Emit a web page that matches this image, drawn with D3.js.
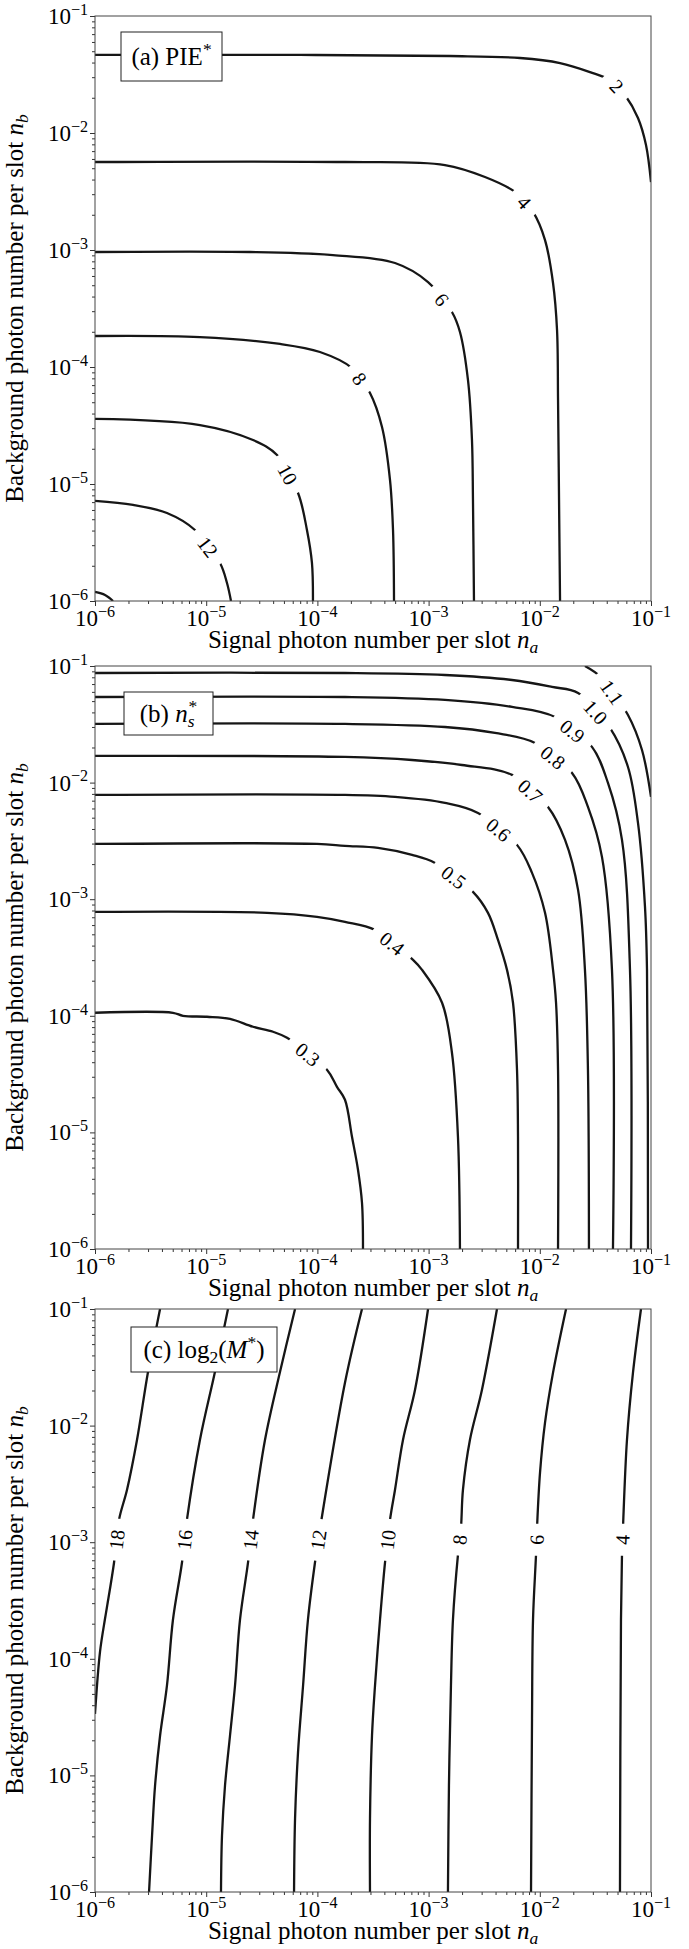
<!DOCTYPE html>
<html>
<head>
<meta charset="utf-8">
<script src="https://cdn.jsdelivr.net/npm/d3@7"></script>
<style>
  body { margin: 0; background: #fff; }
  svg text { font-family: "Liberation Serif", "Times New Roman", serif; fill: #000; }
</style>
</head>
<body>
<div id="container"></div>
<script>
// axis decades (log10) and minor tick multipliers
const decades = [-6, -5, -4, -3, -2, -1];
const minorMultipliers = [2, 3, 4, 5, 6, 7, 8, 9];

// contour points are [log10 na, log10 nb]
// (a) PIE*
const pieLevels = ["2", "4", "6", "8", "10", "12", "14"];
const pieLines = [
  [[-6,-1.333],[-4.156,-1.333],[-2.808,-1.342],[-2.178,-1.359],[-1.818,-1.402],[-1.549,-1.479],[-1.351,-1.556],[-1.234,-1.675],[-1.117,-1.872],[-1.045,-2.103],[-1,-2.419]],
  [[-6,-2.248],[-3.752,-2.248],[-2.853,-2.274],[-2.493,-2.376],[-2.223,-2.504],[-2.061,-2.675],[-1.953,-2.915],[-1.881,-3.282],[-1.845,-3.684],[-1.836,-4.282],[-1.827,-5.137],[-1.818,-6]],
  [[-6,-3.017],[-4.606,-3.017],[-3.860,-3.043],[-3.302,-3.111],[-3.005,-3.274],[-2.790,-3.530],[-2.718,-3.701],[-2.646,-4.111],[-2.610,-4.624],[-2.601,-5.137],[-2.592,-6]],
  [[-6,-3.735],[-5.056,-3.744],[-4.336,-3.803],[-3.977,-3.872],[-3.689,-4.009],[-3.527,-4.222],[-3.419,-4.513],[-3.347,-4.966],[-3.320,-5.393],[-3.311,-6]],
  [[-6,-4.444],[-5.056,-4.496],[-4.579,-4.624],[-4.363,-4.752],[-4.174,-5.077],[-4.094,-5.393],[-4.049,-5.675],[-4.040,-6]],
  [[-6,-5.145],[-5.658,-5.179],[-5.353,-5.248],[-5.101,-5.393],[-4.876,-5.675],[-4.813,-5.846],[-4.777,-6]],
  [[-6,-5.923],[-5.910,-5.949],[-5.838,-6]]
];
const pieLabelAt = [[-1.297,-1.590],[-2.115,-2.573],[-2.853,-3.402],[-3.599,-4.085],[-4.228,-4.897],[-4.984,-5.538],null];

// (b) ns*
const nsLevels = ["0.3", "0.4", "0.5", "0.6", "0.7", "0.8", "0.9", "1.0", "1.1"];
const nsLines = [
  [[-6,-3.974],[-5.299,-3.974],[-5.209,-4.000],[-4.993,-4.008],[-4.786,-4.026],[-4.579,-4.094],[-4.399,-4.137],[-4.273,-4.189],[-3.914,-4.463],[-3.824,-4.609],[-3.752,-4.720],[-3.689,-5.037],[-3.635,-5.320],[-3.599,-5.603],[-3.590,-6]],
  [[-6,-3.109],[-4.453,-3.117],[-4.004,-3.151],[-3.752,-3.194],[-3.482,-3.263],[-3.140,-3.520],[-3.059,-3.606],[-2.879,-3.888],[-2.790,-4.317],[-2.736,-5.037],[-2.718,-6]],
  [[-6,-2.526],[-4.004,-2.526],[-3.752,-2.543],[-3.455,-2.560],[-3.149,-2.620],[-2.942,-2.689],[-2.601,-2.937],[-2.466,-3.117],[-2.376,-3.349],[-2.295,-3.606],[-2.241,-3.888],[-2.205,-4.463],[-2.196,-5.037],[-2.196,-6]],
  [[-6,-2.106],[-3.752,-2.106],[-3.302,-2.123],[-2.853,-2.174],[-2.556,-2.260],[-2.205,-2.534],[-2.070,-2.774],[-1.953,-3.117],[-1.881,-3.606],[-1.854,-3.888],[-1.836,-4.463],[-1.836,-6]],
  [[-6,-1.771],[-3.752,-1.780],[-3.149,-1.806],[-2.700,-1.849],[-2.250,-1.934],[-1.926,-2.209],[-1.773,-2.491],[-1.656,-2.920],[-1.594,-3.606],[-1.567,-4.463],[-1.558,-6]],
  [[-6,-1.497],[-3.752,-1.497],[-2.853,-1.523],[-2.403,-1.574],[-2.043,-1.660],[-1.710,-1.917],[-1.567,-2.209],[-1.441,-2.637],[-1.351,-3.606],[-1.342,-6]],
  [[-6,-1.266],[-3.752,-1.266],[-2.853,-1.291],[-2.250,-1.351],[-1.863,-1.437],[-1.531,-1.694],[-1.387,-2.003],[-1.261,-2.491],[-1.189,-3.606],[-1.180,-6]],
  [[-6,-1.060],[-3.752,-1.060],[-2.853,-1.077],[-2.250,-1.120],[-1.890,-1.180],[-1.656,-1.231],[-1.369,-1.531],[-1.207,-1.866],[-1.117,-2.346],[-1.054,-3.066],[-1.036,-3.606],[-1.027,-6]],
  [[-1.594,-1],[-1.441,-1.103],[-1.207,-1.420],[-1.081,-1.720],[-1,-2.123]]
];
const nsLabelAt = [[-4.067,-4.308],[-3.302,-3.349],[-2.745,-2.774],[-2.358,-2.389],[-2.061,-2.046],[-1.863,-1.763],[-1.683,-1.531],[-1.477,-1.377],[-1.324,-1.206]];

// (c) log2(M*)
const mLevels = ["18", "16", "14", "12", "10", "8", "6", "4"];
const mLines = [
  [[-5.415,-1],[-5.523,-1.538],[-5.622,-2.121],[-5.712,-2.550],[-5.784,-2.807],[-5.829,-3.176],[-5.892,-3.554],[-5.910,-3.657],[-5.955,-3.940],[-6,-4.472]],
  [[-4.804,-1],[-4.921,-1.538],[-5.056,-2.121],[-5.173,-2.807],[-5.218,-3.176],[-5.299,-3.665],[-5.353,-4.231],[-5.415,-4.660],[-5.460,-5.089],[-5.487,-5.518],[-5.514,-6]],
  [[-4.201,-1],[-4.336,-1.538],[-4.471,-2.121],[-4.579,-2.807],[-4.624,-3.176],[-4.696,-3.665],[-4.741,-4.231],[-4.786,-4.660],[-4.831,-5.089],[-4.858,-5.518],[-4.867,-6]],
  [[-3.599,-1],[-3.752,-1.632],[-3.968,-2.833],[-4.022,-3.176],[-4.085,-3.665],[-4.129,-4.231],[-4.174,-4.798],[-4.201,-5.372],[-4.210,-6]],
  [[-3.005,-1],[-3.122,-1.692],[-3.230,-2.121],[-3.302,-2.550],[-3.347,-2.807],[-3.392,-3.176],[-3.437,-3.665],[-3.482,-4.231],[-3.509,-4.660],[-3.527,-5.372],[-3.527,-6]],
  [[-2.385,-1],[-2.520,-1.692],[-2.628,-2.121],[-2.691,-2.550],[-2.709,-2.876],[-2.736,-3.108],[-2.781,-3.665],[-2.799,-4.231],[-2.817,-5.089],[-2.826,-6]],
  [[-1.764,-1],[-1.881,-1.546],[-1.953,-1.975],[-1.998,-2.404],[-2.025,-2.876],[-2.034,-3.108],[-2.061,-3.665],[-2.070,-4.515],[-2.079,-6]],
  [[-1.090,-1],[-1.162,-1.546],[-1.216,-2.121],[-1.252,-2.876],[-1.261,-3.108],[-1.270,-3.665],[-1.279,-6]]
];
const mLabelAt = [[-5.793,-2.979],[-5.191,-2.979],[-4.588,-2.979],[-3.995,-2.979],[-3.374,-2.979],[-2.718,-2.979],[-2.034,-2.979],[-1.261,-2.979]];

// panel titles as rich-text pieces
const pieTitle = [{t: "(a) PIE"}, {t: "*", sup: true}];
const nsTitle = [{t: "(b) "}, {t: "n", it: true}, {t: "s", it: true, sub: true}, {t: "*", sup: true, dx: -6}];
const mTitle = [{t: "(c) log"}, {t: "2", sub: true}, {t: "("}, {t: "M", it: true}, {t: "*", sup: true}, {t: ")"}];

const xTitle = [{t: "Signal photon number per slot "}, {t: "n", it: true}, {t: "a", it: true, sub: true}];
const yTitle = [{t: "Background photon number per slot "}, {t: "n", it: true}, {t: "b", it: true, sub: true}];

let w = 689;
let h = 1949;
let left = 95;
let plotW = 556;

let panels = [
  {top: 16, h: 585, lines: pieLines, levels: pieLevels, labels: pieLabelAt, title: pieTitle, box: [26, 16, 101, 49]},
  {top: 666, h: 583, lines: nsLines, levels: nsLevels, labels: nsLabelAt, title: nsTitle, box: [29, 26, 89, 43]},
  {top: 1309, h: 583, lines: mLines, levels: mLevels, labels: mLabelAt, title: mTitle, box: [36, 18, 146, 45]}
];

let viz = d3.select("#container")
  .append("svg")
  .attr("width", w)
  .attr("height", h);

let defs = viz.append("defs");

function rich(sel, parts, size) {
  let shift = 0;
  parts.forEach(pt => {
    let ts = sel.append("tspan").text(pt.t);
    let target = 0, fs = size;
    if (pt.sub) { target = size * 0.2; fs = size * 0.7; }
    if (pt.sup) { target = -size * 0.4; fs = size * 0.7; }
    ts.attr("font-size", fs).attr("dy", target - shift);
    if (pt.it) ts.attr("font-style", "italic");
    if (pt.dx) ts.attr("dx", pt.dx);
    shift = target;
  });
}

// nearest point on polyline + direction of that segment
function snap(pts, p) {
  let best = null;
  for (let i = 0; i < pts.length - 1; i++) {
    let a = pts[i], b = pts[i + 1];
    let vx = b[0] - a[0], vy = b[1] - a[1];
    let t = ((p[0] - a[0]) * vx + (p[1] - a[1]) * vy) / (vx * vx + vy * vy);
    t = Math.max(0, Math.min(1, t));
    let qx = a[0] + t * vx, qy = a[1] + t * vy;
    let d = Math.hypot(p[0] - qx, p[1] - qy);
    if (!best || d < best.d) best = {d: d, x: qx, y: qy, ang: Math.atan2(vy, vx) * 180 / Math.PI};
  }
  if (best.ang > 90) best.ang -= 180;
  if (best.ang <= -90) best.ang += 180;
  return best;
}

panels.forEach((p, i) => {
  let x = d3.scaleLog().domain([1e-6, 1e-1]).range([left, left + plotW]);
  let y = d3.scaleLog().domain([1e-6, 1e-1]).range([p.top + p.h, p.top]);
  let bottom = p.top + p.h;

  let mask = defs.append("mask")
    .attr("id", "gap" + i)
    .attr("maskUnits", "userSpaceOnUse")
    .attr("x", 0).attr("y", 0).attr("width", w).attr("height", h);
  mask.append("rect")
    .attr("x", left).attr("y", p.top)
    .attr("width", plotW).attr("height", p.h)
    .attr("fill", "white");

  let line = d3.line()
    .x(d => x(Math.pow(10, d[0])))
    .y(d => y(Math.pow(10, d[1])))
    .curve(d3.curveCatmullRom.alpha(0.5));

  let lineGroup = viz.append("g").attr("mask", "url(#gap" + i + ")");
  lineGroup.selectAll(".contour").data(p.lines).enter()
    .append("path")
    .attr("class", "contour")
    .attr("d", line)
    .attr("fill", "none")
    .attr("stroke", "#161616")
    .attr("stroke-width", 2.3)
    .attr("stroke-linejoin", "round");

  // inline contour labels
  let labelGroup = viz.append("g");
  p.lines.forEach((pts, k) => {
    let at = p.labels[k];
    if (!at) return;
    let px = pts.map(d => [x(Math.pow(10, d[0])), y(Math.pow(10, d[1]))]);
    let s = snap(px, [x(Math.pow(10, at[0])), y(Math.pow(10, at[1]))]);
    let txt = labelGroup.append("text")
      .attr("transform", `translate(${s.x},${s.y}) rotate(${s.ang})`)
      .attr("text-anchor", "middle")
      .attr("dominant-baseline", "central")
      .attr("font-size", 20)
      .text(p.levels[k]);
    let tw = txt.node().getComputedTextLength();
    mask.append("rect")
      .attr("x", -tw / 2 - 11).attr("y", -9)
      .attr("width", tw + 22).attr("height", 18)
      .attr("transform", `translate(${s.x},${s.y}) rotate(${s.ang})`)
      .attr("fill", "black");
  });

  // title box
  let bx = left + p.box[0], by = p.top + p.box[1];
  let boxG = viz.append("g");
  boxG.append("rect")
    .attr("x", bx).attr("y", by)
    .attr("width", p.box[2]).attr("height", p.box[3])
    .attr("fill", "white")
    .attr("stroke", "#222")
    .attr("stroke-width", 1);
  let tt = boxG.append("text")
    .attr("x", bx + p.box[2] / 2)
    .attr("y", by + p.box[3] / 2 + 8)
    .attr("text-anchor", "middle");
  rich(tt, p.title, 25);

  // axes
  let majors = decades.map(e => Math.pow(10, e));
  let minors = [];
  decades.slice(0, -1).forEach(e => minorMultipliers.forEach(m => minors.push(m * Math.pow(10, e))));

  let xAxis = viz.append("g").attr("transform", `translate(0,${bottom})`)
    .call(d3.axisBottom(x).tickValues(majors).tickSize(5).tickSizeOuter(0).tickFormat(""));
  let xMinor = viz.append("g").attr("transform", `translate(0,${bottom})`)
    .call(d3.axisBottom(x).tickValues(minors).tickSize(3).tickSizeOuter(0).tickFormat(""));
  let yAxis = viz.append("g").attr("transform", `translate(${left},0)`)
    .call(d3.axisLeft(y).tickValues(majors).tickSize(5).tickSizeOuter(0).tickFormat(""));
  let yMinor = viz.append("g").attr("transform", `translate(${left},0)`)
    .call(d3.axisLeft(y).tickValues(minors).tickSize(3).tickSizeOuter(0).tickFormat(""));
  [xAxis, xMinor, yAxis, yMinor].forEach(a => {
    a.select(".domain").remove();
    a.selectAll("line").attr("stroke", "#333");
  });

  viz.append("rect")
    .attr("x", left).attr("y", p.top)
    .attr("width", plotW).attr("height", p.h)
    .attr("fill", "none")
    .attr("stroke", "#444")
    .attr("stroke-width", 1);

  decades.forEach(e => {
    let parts = [{t: "10"}, {t: "\u2212" + Math.abs(e), sup: true}];
    let tx = viz.append("text")
      .attr("x", x(Math.pow(10, e)))
      .attr("y", bottom + 25)
      .attr("text-anchor", "middle");
    rich(tx, parts, 23);
    let ty = viz.append("text")
      .attr("x", left - 7)
      .attr("y", y(Math.pow(10, e)) + 8)
      .attr("text-anchor", "end");
    rich(ty, parts, 23);
  });

  let xl = viz.append("text")
    .attr("x", left + plotW / 2)
    .attr("y", bottom + 47)
    .attr("text-anchor", "middle");
  rich(xl, xTitle, 25);

  let yl = viz.append("text")
    .attr("transform", `translate(23,${p.top + p.h / 2}) rotate(-90)`)
    .attr("text-anchor", "middle");
  rich(yl, yTitle, 25);
});
</script>
</body>
</html>
